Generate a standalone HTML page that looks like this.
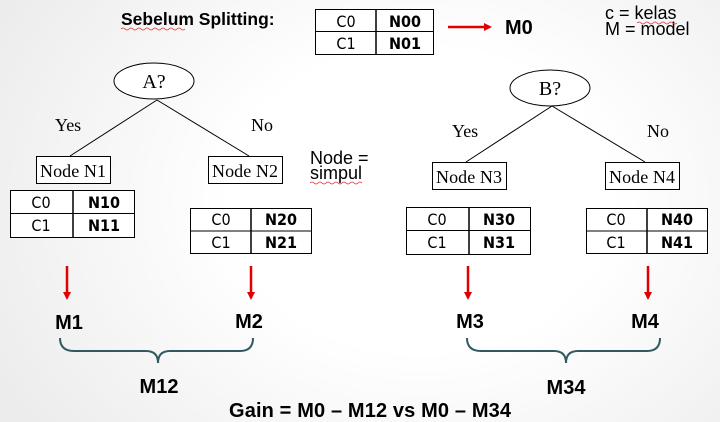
<!DOCTYPE html>
<html><head><meta charset="utf-8"><style>
html,body{margin:0;padding:0}
body{width:720px;height:422px;overflow:hidden;background:radial-gradient(ellipse 480px 380px at 420px 200px,#ffffff 40%,#ececec 100%)}
svg{display:block}
.s{font-family:"Liberation Sans",sans-serif}
.r{font-family:"Liberation Serif",serif}
.d{font-family:"DejaVu Sans Condensed","DejaVu Sans",sans-serif}
</style></head><body>
<svg width="720" height="422" viewBox="0 0 720 422" xmlns="http://www.w3.org/2000/svg">
<defs>
<marker id="ah" markerWidth="8" markerHeight="8" refX="6" refY="4" orient="auto" markerUnits="userSpaceOnUse"><path d="M0,0 L8,4 L0,8 z" fill="#e00000"/></marker>
</defs>
<text x="121" y="25" class="s" font-size="17.5" font-weight="bold">Sebelum Splitting:</text>
<path d="M121,29 q2,-2 4,0 t4,0 t4,0 t4,0 t4,0 t4,0 t4,0 t4,0 t4,0 t4,0 t4,0 t4,0 t4,0 t4,0 t4,0 t4,0" fill="none" stroke="#d33" stroke-width="0.8"/>
<g class="d" font-size="16" text-anchor="middle">
<rect x="315.5" y="9.5" width="118" height="45" fill="#fff" stroke="#000"/>
<line x1="315" y1="31.5" x2="433" y2="31.5" stroke="#000"/>
<line x1="376" y1="9" x2="376" y2="54" stroke="#000" stroke-width="1.5"/>
<text x="346" y="27">C0</text><text x="346" y="49">C1</text>
<text x="405" y="27" font-weight="bold">N00</text><text x="405" y="49" font-weight="bold">N01</text>
<rect x="10.5" y="190.5" width="124" height="47" fill="#fff" stroke="#000"/>
<line x1="10" y1="213.5" x2="134" y2="213.5" stroke="#000"/>
<line x1="73" y1="190" x2="73" y2="237" stroke="#000" stroke-width="1.5"/>
<text x="41" y="208">C0</text><text x="41" y="231">C1</text>
<text x="104" y="208" font-weight="bold">N10</text><text x="104" y="231" font-weight="bold">N11</text>
<rect x="190.5" y="208.5" width="121" height="45" fill="#fff" stroke="#000"/>
<line x1="190" y1="231" x2="311" y2="231" stroke="#000"/>
<line x1="251" y1="208" x2="251" y2="253" stroke="#000" stroke-width="1.5"/>
<text x="221" y="225">C0</text><text x="221" y="248">C1</text>
<text x="281" y="225" font-weight="bold">N20</text><text x="281" y="248" font-weight="bold">N21</text>
<rect x="406.5" y="207.5" width="124" height="47" fill="#fff" stroke="#000"/>
<line x1="406" y1="230.5" x2="530" y2="230.5" stroke="#000"/>
<line x1="469" y1="207" x2="469" y2="254" stroke="#000" stroke-width="1.5"/>
<text x="437" y="225">C0</text><text x="437" y="248">C1</text>
<text x="499" y="225" font-weight="bold">N30</text><text x="499" y="248" font-weight="bold">N31</text>
<rect x="586.5" y="208.5" width="121" height="45" fill="#fff" stroke="#000"/>
<line x1="586" y1="231" x2="707" y2="231" stroke="#000"/>
<line x1="647" y1="208" x2="647" y2="253" stroke="#000" stroke-width="1.5"/>
<text x="616" y="225">C0</text><text x="616" y="248">C1</text>
<text x="677" y="225" font-weight="bold">N40</text><text x="677" y="248" font-weight="bold">N41</text>
</g>
<line x1="448" y1="27" x2="490" y2="27" stroke="#e00000" stroke-width="2.5" marker-end="url(#ah)"/>
<text x="505" y="34" class="s" font-size="20" font-weight="bold">M0</text>
<text x="605" y="19" class="s" font-size="18">c = kelas</text>
<text x="605" y="35" class="s" font-size="18">M = model</text>
<path d="M637,23 q2,-2 4,0 t4,0 t4,0 t4,0 t4,0 t4,0 t4,0 t4,0 t4,0 t4,0" fill="none" stroke="#d33" stroke-width="0.8"/>
<ellipse cx="154" cy="81" rx="40" ry="18" fill="#fff" stroke="#000"/>
<text x="154" y="88" class="r" font-size="20" text-anchor="middle">A?</text>
<line x1="157" y1="100" x2="70" y2="156" stroke="#000"/>
<line x1="157" y1="100" x2="249" y2="156" stroke="#000"/>
<text x="55" y="131" class="r" font-size="18">Yes</text>
<text x="251" y="131" class="r" font-size="18">No</text>
<rect x="36.5" y="156.5" width="74" height="27" fill="#fff" stroke="#000"/>
<text x="73" y="177" class="r" font-size="18" text-anchor="middle" textLength="66">Node N1</text>
<rect x="208.5" y="156.5" width="74" height="27" fill="#fff" stroke="#000"/>
<text x="245" y="177" class="r" font-size="18" text-anchor="middle" textLength="66">Node N2</text>
<text x="310" y="164" class="s" font-size="18">Node =</text>
<text x="310" y="179" class="s" font-size="18">simpul</text>
<path d="M310,183 q2,-2 4,0 t4,0 t4,0 t4,0 t4,0 t4,0 t4,0 t4,0 t4,0 t4,0 t4,0 t4,0 t4,0" fill="none" stroke="#d33" stroke-width="0.8"/>
<ellipse cx="550" cy="88" rx="40" ry="18" fill="#fff" stroke="#000"/>
<text x="550" y="95" class="r" font-size="20" text-anchor="middle">B?</text>
<line x1="552" y1="106" x2="466" y2="162" stroke="#000"/>
<line x1="552" y1="106" x2="645" y2="162" stroke="#000"/>
<text x="452" y="137" class="r" font-size="18">Yes</text>
<text x="647" y="137" class="r" font-size="18">No</text>
<rect x="432.5" y="162.5" width="74" height="27" fill="#fff" stroke="#000"/>
<text x="469" y="183" class="r" font-size="18" text-anchor="middle" textLength="66">Node N3</text>
<rect x="605.5" y="162.5" width="74" height="27" fill="#fff" stroke="#000"/>
<text x="642" y="183" class="r" font-size="18" text-anchor="middle" textLength="66">Node N4</text>
<g stroke="#e00000" stroke-width="2.5">
<line x1="67" y1="266" x2="67" y2="298" marker-end="url(#ah)"/>
<line x1="251" y1="266" x2="251" y2="298" marker-end="url(#ah)"/>
<line x1="468" y1="266" x2="468" y2="298" marker-end="url(#ah)"/>
<line x1="648" y1="266" x2="648" y2="298" marker-end="url(#ah)"/>
</g>
<g class="s" font-size="20" font-weight="bold" text-anchor="middle">
<text x="69" y="329">M1</text>
<text x="249" y="328">M2</text>
<text x="470" y="328">M3</text>
<text x="645" y="328">M4</text>
<text x="159" y="393">M12</text>
<text x="566" y="394">M34</text>
<text x="370" y="417" font-size="20" textLength="282">Gain = M0 – M12 vs  M0 – M34</text>
</g>
<g fill="none" stroke="#2f5a60" stroke-width="2">
<path d="M60,338 Q60,351 74,351 L146,351 Q158,351 158,363 Q158,351 170,351 L240,351 Q253,351 253,338"/>
<path d="M467,338 Q467,351 481,351 L554,351 Q566,351 566,363 Q566,351 578,351 L647,351 Q660,351 660,338"/>
</g>
</svg>
</body></html>
